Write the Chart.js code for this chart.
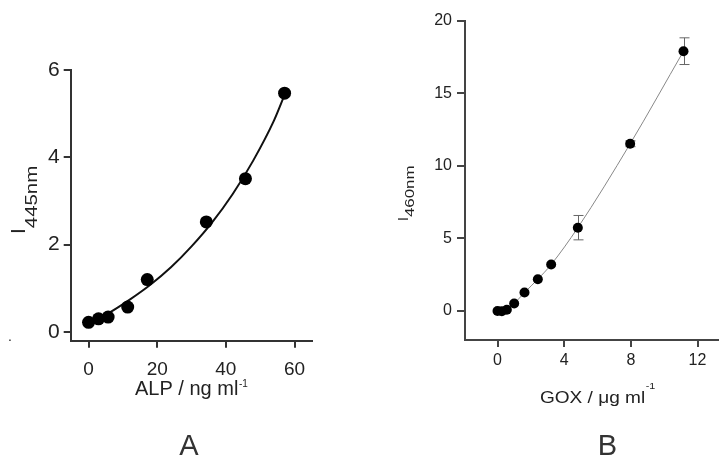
<!DOCTYPE html>
<html><head><meta charset="utf-8">
<script src="https://cdn.jsdelivr.net/npm/chart.js@4.4.1/dist/chart.umd.min.js"></script>
<style>
html,body{margin:0;padding:0;background:#fff;width:723px;height:458px;overflow:hidden;}
canvas{position:absolute;left:0;top:0;}
</style></head><body>
<canvas id="a" width="723" height="458"></canvas>
<canvas id="b" width="723" height="458"></canvas>
<script>
// Panel A data
const alpX = [0, 2.9, 5.7, 11.4, 17.1, 34.3, 45.7, 57.1];
const alpY = [0.22, 0.30, 0.34, 0.57, 1.20, 2.52, 3.51, 5.47];
const alpFitX = [0, 6, 12, 18, 24, 30, 36, 42, 48, 54, 57.1];
const alpFitY = [0.22, 0.44, 0.74, 1.08, 1.48, 1.96, 2.51, 3.16, 3.93, 4.84, 5.43];
const alpXTicks = [0, 20, 40, 60];
const alpYTicks = [0, 2, 4, 6];
// Panel B data
const goxX = [0, 0.26, 0.56, 1.0, 1.62, 2.42, 3.22, 4.82, 7.96, 11.16];
const goxY = [0, -0.02, 0.09, 0.51, 1.27, 2.19, 3.20, 5.74, 11.52, 17.90];
const goxErr = [0, 0, 0, 0, 0, 0, 0, 0.84, 0.2, 0.92];
const goxXTicks = [0, 4, 8, 12];
const goxYTicks = [0, 5, 10, 15, 20];

const FONT = "'Liberation Sans', Arial, sans-serif";
Chart.defaults.font.family = FONT;

function axis(o) {
  return {
    type: 'linear', min: o.min, max: o.max,
    afterBuildTicks: s => { s.ticks = o.ticks.map(v => ({ value: v })); },
    afterFit: s => { if (o.w) s.width = o.w; if (o.h) s.height = o.h; },
    grid: { display: true, drawOnChartArea: false, drawTicks: true, tickLength: o.tl, color: o.color, lineWidth: o.lw },
    border: { display: true, color: o.color, width: o.lw },
    ticks: { color: '#222', font: { size: o.fs }, padding: o.pad, maxRotation: 0, autoSkip: false }
  };
}
const pts = (xs, ys) => xs.map((x, i) => ({ x: x, y: ys[i] }));

const labelsA = {
  id: 'labelsA',
  afterDraw(chart) {
    const ctx = chart.ctx;
    ctx.save();
    ctx.fillStyle = '#222';
    ctx.textBaseline = 'alphabetic';
    ctx.textAlign = 'left';
    // y title
    ctx.save();
    ctx.translate(25, 234);
    ctx.rotate(-Math.PI / 2);
    ctx.font = '21px ' + FONT;
    ctx.fillText('I', 0, 0);
    const w = ctx.measureText('I').width;
    ctx.translate(w, 12);
    ctx.scale(1.2, 1);
    ctx.font = '17px ' + FONT;
    ctx.fillText('445nm', 0, 0);
    ctx.restore();
    // x title
    ctx.font = '20px ' + FONT;
    const main = 'ALP / ng ml';
    const mw = ctx.measureText(main).width;
    ctx.fillText(main, 135, 395);
    ctx.font = '10px ' + FONT;
    ctx.fillText('-1', 135 + mw + 0.5, 386.5);
    // stray dot
    ctx.font = '14px ' + FONT;
    ctx.fillText('.', 8, 341);
    // panel letter
    ctx.font = '29px ' + FONT;
    ctx.fillStyle = '#333';
    ctx.textAlign = 'center';
    ctx.fillText('A', 189, 455);
    ctx.restore();
  }
};

const labelsB = {
  id: 'labelsB',
  beforeDatasetsDraw(chart) {
    const ctx = chart.ctx, xs = chart.scales.x, ys = chart.scales.y;
    ctx.save();
    ctx.strokeStyle = '#666';
    ctx.lineWidth = 1;
    goxX.forEach((x, i) => {
      if (!goxErr[i]) return;
      const px = Math.round(xs.getPixelForValue(x)) + 0.5;
      const top = ys.getPixelForValue(goxY[i] + goxErr[i]);
      const bot = ys.getPixelForValue(goxY[i] - goxErr[i]);
      ctx.beginPath();
      ctx.moveTo(px, top); ctx.lineTo(px, bot);
      ctx.moveTo(px - 5, top); ctx.lineTo(px + 5, top);
      ctx.moveTo(px - 5, bot); ctx.lineTo(px + 5, bot);
      ctx.stroke();
    });
    ctx.restore();
  },
  afterDraw(chart) {
    const ctx = chart.ctx;
    ctx.save();
    ctx.fillStyle = '#222';
    ctx.textBaseline = 'alphabetic';
    ctx.textAlign = 'left';
    // y title
    ctx.save();
    ctx.translate(408, 221);
    ctx.rotate(-Math.PI / 2);
    ctx.font = '14px ' + FONT;
    ctx.fillText('I', 0, 0);
    const w = ctx.measureText('I').width;
    ctx.translate(w, 6);
    ctx.scale(1.3, 1);
    ctx.font = '13px ' + FONT;
    ctx.fillText('460nm', 0, 0);
    ctx.restore();
    // x title
    ctx.save();
    ctx.translate(540, 403.3);
    ctx.scale(1.19, 1);
    ctx.font = '16px ' + FONT;
    const main = 'GOX / \u03bcg ml';
    const mw = ctx.measureText(main).width;
    ctx.fillText(main, 0, 0);
    ctx.font = '9px ' + FONT;
    ctx.fillText('-1', mw + 0.5, -14);
    ctx.restore();
    // panel letter
    ctx.font = '29px ' + FONT;
    ctx.fillStyle = '#333';
    ctx.textAlign = 'center';
    ctx.fillText('B', 607.5, 455);
    ctx.restore();
  }
};

const common = {
  responsive: false, animation: false, devicePixelRatio: 1, events: [],
  plugins: { legend: { display: false }, tooltip: { enabled: false }, title: { display: false } }
};

new Chart(document.getElementById('a'), {
  type: 'scatter',
  data: { datasets: [
    { data: pts(alpFitX, alpFitY), showLine: true, borderColor: '#111', borderWidth: 2, pointRadius: 0,
      cubicInterpolationMode: 'monotone', order: 2 },
    { data: pts(alpX, alpY), showLine: false, pointRadius: 6.5, pointBackgroundColor: '#000',
      pointBorderColor: '#000', pointBorderWidth: 0, order: 1 }
  ] },
  options: Object.assign({}, common, {
    layout: { padding: { left: 10, right: 411.3, top: 70, bottom: 57.3 } },
    scales: {
      x: axis({ min: -5.2, max: 65, ticks: alpXTicks, h: 60, tl: 7, color: '#333', lw: 2, fs: 19, pad: 10.5 }),
      y: axis({ min: -0.2, max: 6, ticks: alpYTicks, w: 60.7, tl: 7, color: '#333', lw: 2, fs: 21, pad: 4 })
    }
  }),
  plugins: [labelsA]
});

new Chart(document.getElementById('b'), {
  type: 'scatter',
  data: { datasets: [
    { data: pts(goxX, goxY), showLine: true, borderColor: '#888', borderWidth: 1, cubicInterpolationMode: 'monotone',
      pointRadius: 5, pointBackgroundColor: '#000', pointBorderColor: '#000', pointBorderWidth: 0 }
  ] },
  options: Object.assign({}, common, {
    layout: { padding: { left: 405, right: 5.5, top: 20.7, bottom: 58 } },
    scales: {
      x: axis({ min: -1.95, max: 13.2, ticks: goxXTicks, h: 60, tl: 7, color: '#444', lw: 2, fs: 16, pad: 4 }),
      y: axis({ min: -2, max: 20, ticks: goxYTicks, w: 60, tl: 8, color: '#444', lw: 2, fs: 16, pad: 5 })
    }
  }),
  plugins: [labelsB]
});
</script>
</body></html>
